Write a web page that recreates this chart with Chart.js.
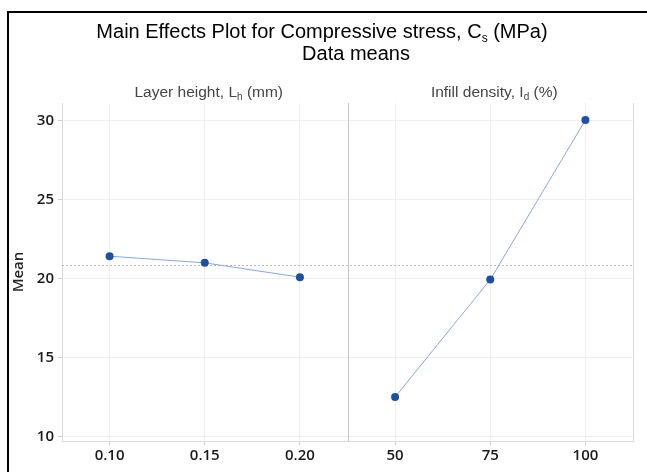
<!DOCTYPE html>
<html>
  <head>
    <script src="https://cdn.jsdelivr.net/npm/chart.js"></script>
    <style>
      html, body { margin: 0; padding: 0; background: #fff; }
      #wrap { width: 647px; height: 472px; }
    </style>
  </head>

  <body>
    <div id="wrap"><canvas id="effects" width="647" height="472"></canvas></div>
  </body>

  <script>
    // factor levels and data means
    var layerLevels = ["0.10", "0.15", "0.20"];
    var layerMeans = [21.4, 20.98, 20.07];
    var infillLevels = ["50", "75", "100"];
    var infillMeans = [12.48, 19.92, 30.02];
    var grandMean = 20.82;
    var yTicks = [10, 15, 20, 25, 30];

    // text pieces, [text, isSubscript]
    var titleLine1 = [["Main Effects Plot for Compressive stress, C", false], ["s", true], [" (MPa)", false]];
    var titleLine2 = [["Data means", false]];
    var layerHeader = [["Layer height, L", false], ["h", true], [" (mm)", false]];
    var infillHeader = [["Infill density, I", false], ["d", true], [" (%)", false]];

    var labels = layerLevels.concat(infillLevels);
    var pad = function (n) { return new Array(n).fill(null); };

    // draws text with subscripts, centred on x
    function drawRich(ctx, parts, x, y, size, family, color) {
      var subSize = Math.round(size * 0.62);
      var w = 0;
      parts.forEach(function (p) {
        ctx.font = (p[1] ? subSize : size) + "px " + family;
        w += ctx.measureText(p[0]).width;
      });
      var cx = x - w / 2;
      ctx.fillStyle = color;
      ctx.textAlign = "left";
      ctx.textBaseline = "alphabetic";
      parts.forEach(function (p) {
        ctx.font = (p[1] ? subSize : size) + "px " + family;
        ctx.fillText(p[0], cx, p[1] ? y + size * 0.2 : y);
        cx += ctx.measureText(p[0]).width;
      });
    }

    var decorations = {
      id: "decorations",
      beforeDatasetsDraw: function (chart) {
        var ctx = chart.ctx;
        var area = chart.chartArea;
        var xs = chart.scales.x;
        var ys = chart.scales.y;
        ctx.save();
        // overall mean reference line
        var ym = Math.round(ys.getPixelForValue(grandMean)) + 0.5;
        ctx.strokeStyle = "#b8b8b8";
        ctx.lineWidth = 1;
        ctx.setLineDash([2, 2]);
        ctx.beginPath();
        ctx.moveTo(area.left, ym);
        ctx.lineTo(area.right, ym);
        ctx.stroke();
        ctx.setLineDash([]);
        // panel divider
        var xd = Math.round((xs.getPixelForValue(2) + xs.getPixelForValue(3)) / 2) + 0.5;
        ctx.strokeStyle = "#c6c6c6";
        ctx.beginPath();
        ctx.moveTo(xd, area.top);
        ctx.lineTo(xd, area.bottom);
        ctx.stroke();
        // right edge of plot
        ctx.strokeStyle = "#dcdcdc";
        ctx.beginPath();
        ctx.moveTo(Math.round(area.right) + 0.5, area.top);
        ctx.lineTo(Math.round(area.right) + 0.5, area.bottom);
        ctx.stroke();
        ctx.restore();
      },
      afterDraw: function (chart) {
        var ctx = chart.ctx;
        var xs = chart.scales.x;
        ctx.save();
        // outer frame
        ctx.fillStyle = "#000";
        ctx.fillRect(7, 11, 2, chart.height);
        ctx.fillRect(7, 11, chart.width, 2);
        var fam = "'Liberation Sans', Arial, sans-serif";
        drawRich(ctx, titleLine1, 322, 37.5, 20, fam, "#000");
        drawRich(ctx, titleLine2, 356, 60, 20, fam, "#000");
        drawRich(ctx, layerHeader, xs.getPixelForValue(1) + 4, 97, 15.5, fam, "#454545");
        drawRich(ctx, infillHeader, xs.getPixelForValue(4) + 4, 97, 15.5, fam, "#454545");
        ctx.restore();
      },
    };

    var tickFont = { family: "'Open Sans'", size: 15, weight: "600" };

    new Chart(document.getElementById("effects").getContext("2d"), {
      type: "line",
      data: {
        labels: labels,
        datasets: [
          {
            data: layerMeans.concat(pad(infillLevels.length)),
            borderColor: "#86a8da",
            borderWidth: 1,
            pointRadius: 4,
            pointBackgroundColor: "#1f4f9f",
            pointBorderColor: "#1f4f9f",
            pointBorderWidth: 0,
            spanGaps: false,
          },
          {
            data: pad(layerLevels.length).concat(infillMeans),
            borderColor: "#86a8da",
            borderWidth: 1,
            pointRadius: 4,
            pointBackgroundColor: "#1f4f9f",
            pointBorderColor: "#1f4f9f",
            pointBorderWidth: 0,
            spanGaps: false,
          },
        ],
      },
      options: {
        responsive: false,
        animation: false,
        devicePixelRatio: 1,
        layout: { padding: { top: 103, right: 14, left: 0, bottom: 0 } },
        plugins: {
          legend: { display: false },
          tooltip: { enabled: false },
        },
        scales: {
          x: {
            offset: true,
            afterFit: function (s) { s.height = 31; },
            grid: { color: "#efefef", tickColor: "#cfcfcf", tickLength: 4 },
            border: { color: "#dcdcdc" },
            ticks: { color: "#1a1a1a", font: tickFont, padding: 2, maxRotation: 0 },
          },
          y: {
            min: 9.7,
            max: 31.1,
            afterFit: function (s) { s.width = 62; },
            afterBuildTicks: function (s) {
              s.ticks = yTicks.map(function (v) { return { value: v }; });
            },
            grid: { color: "#efefef", tickColor: "#cfcfcf", tickLength: 4 },
            border: { color: "#dcdcdc" },
            ticks: { color: "#1a1a1a", font: tickFont, padding: 4 },
            title: {
              display: true,
              text: "Mean",
              color: "#262626",
              font: { family: "'Open Sans'", size: 15, weight: "600" },
              padding: { top: 10, bottom: 0 },
            },
          },
        },
      },
      plugins: [decorations],
    });
  </script>
</html>
